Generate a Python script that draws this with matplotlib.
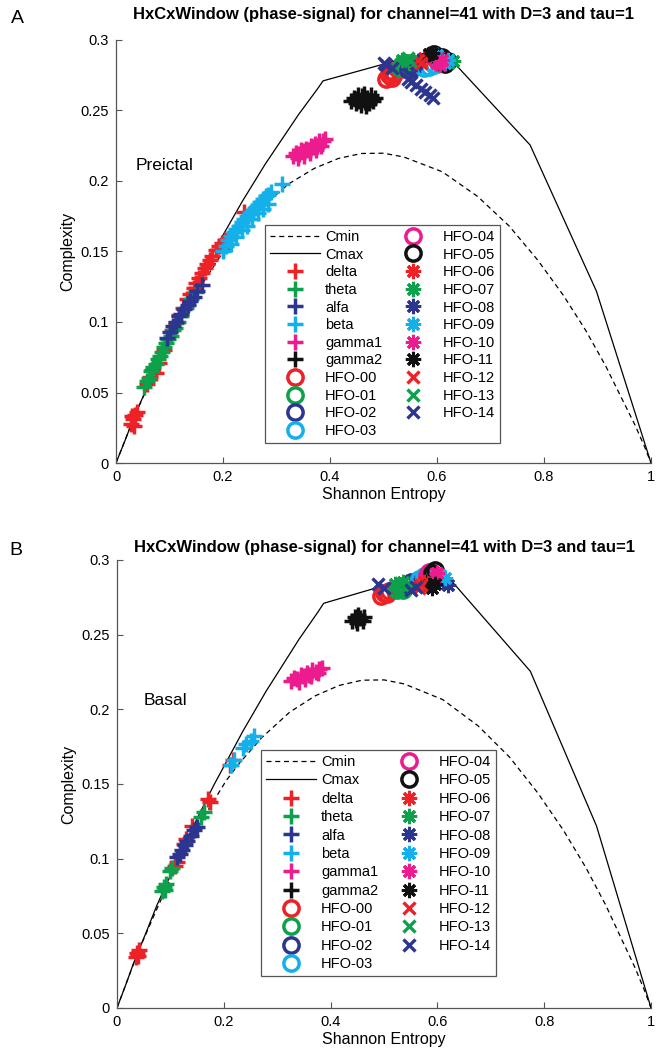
import matplotlib.pyplot as plt
from matplotlib.lines import Line2D

plt.rcParams['font.family'] = ['Liberation Sans', 'DejaVu Sans']

# ---- bounds of the complexity-entropy plane ----
cmin_h = [0.0, 0.022, 0.040, 0.073, 0.102, 0.130, 0.156, 0.204, 0.227, 0.271, 0.323, 0.371, 0.416,
          0.459, 0.500, 0.538, 0.610, 0.676, 0.735, 0.788, 0.836, 0.878, 0.915, 0.945, 0.970, 0.988, 1.0]
cmin_c = [0.0, 0.021, 0.038, 0.065, 0.088, 0.107, 0.124, 0.152, 0.163, 0.181, 0.198, 0.209, 0.216,
          0.2195, 0.2197, 0.217, 0.2065, 0.189, 0.168, 0.144, 0.119, 0.094, 0.069, 0.046, 0.027, 0.0115, 0.0]
cmax_h = [0.0, 0.018, 0.031, 0.055, 0.075, 0.111, 0.142, 0.181, 0.236, 0.279, 0.341, 0.376, 0.387,
          0.530, 0.589, 0.613, 0.774, 0.898, 1.0]
cmax_c = [0.0, 0.017, 0.030, 0.051, 0.069, 0.0975, 0.121, 0.149, 0.1855, 0.212, 0.247, 0.265, 0.271,
          0.286, 0.290, 0.2915, 0.2255, 0.1218, 0.0]

labels = ['delta', 'theta', 'alfa', 'beta', 'gamma1', 'gamma2'] + ['HFO-%02d' % i for i in range(15)]

# ---- panel A: preictal windows (H, C) ----
delta_a = [(0.028, 0.028), (0.032, 0.031), (0.036, 0.034), (0.040, 0.036), (0.034, 0.026), (0.030, 0.033),
           (0.058, 0.056), (0.064, 0.061), (0.068, 0.066), (0.074, 0.064), (0.080, 0.071), (0.090, 0.080),
           (0.104, 0.094), (0.112, 0.099), (0.118, 0.105), (0.126, 0.110), (0.132, 0.116), (0.138, 0.120),
           (0.145, 0.124), (0.150, 0.128), (0.156, 0.131), (0.160, 0.135), (0.166, 0.138), (0.170, 0.141),
           (0.176, 0.144), (0.180, 0.147), (0.186, 0.151), (0.192, 0.154), (0.198, 0.156), (0.204, 0.158),
           (0.200, 0.152), (0.240, 0.178)]
theta_a = [(0.052, 0.054), (0.057, 0.058), (0.062, 0.060), (0.066, 0.065), (0.070, 0.068), (0.074, 0.070),
           (0.078, 0.074), (0.082, 0.076), (0.086, 0.079), (0.090, 0.082), (0.094, 0.085), (0.098, 0.088),
           (0.102, 0.090), (0.106, 0.094), (0.110, 0.096), (0.116, 0.100), (0.122, 0.104), (0.130, 0.110),
           (0.140, 0.116), (0.150, 0.121)]
alfa_a = [(0.095, 0.089), (0.100, 0.093), (0.106, 0.097), (0.112, 0.100), (0.118, 0.104), (0.122, 0.106),
          (0.128, 0.109), (0.134, 0.112), (0.138, 0.115), (0.145, 0.118), (0.152, 0.122), (0.160, 0.126)]
beta_a = [(0.200, 0.150), (0.205, 0.154), (0.210, 0.158), (0.215, 0.161), (0.220, 0.164), (0.225, 0.166),
          (0.230, 0.168), (0.235, 0.171), (0.240, 0.173), (0.245, 0.175), (0.250, 0.177), (0.255, 0.179),
          (0.260, 0.181), (0.265, 0.183), (0.270, 0.185), (0.275, 0.187), (0.280, 0.189), (0.285, 0.190),
          (0.290, 0.192), (0.215, 0.155), (0.225, 0.160), (0.235, 0.165), (0.245, 0.168), (0.255, 0.173),
          (0.265, 0.177), (0.275, 0.180), (0.285, 0.184), (0.310, 0.198)]
gamma1_a = [(0.330, 0.218), (0.336, 0.220), (0.342, 0.219), (0.346, 0.222), (0.350, 0.221), (0.355, 0.223),
            (0.360, 0.222), (0.364, 0.225), (0.368, 0.224), (0.372, 0.226), (0.376, 0.225), (0.380, 0.228),
            (0.386, 0.228), (0.390, 0.230), (0.340, 0.216), (0.352, 0.218), (0.362, 0.220), (0.374, 0.222),
            (0.384, 0.225)]
gamma2_a = [(0.440, 0.257), (0.445, 0.259), (0.448, 0.255), (0.452, 0.261), (0.455, 0.257), (0.458, 0.254),
            (0.460, 0.260), (0.463, 0.262), (0.466, 0.256), (0.470, 0.259), (0.473, 0.255), (0.476, 0.261),
            (0.480, 0.257), (0.484, 0.259), (0.450, 0.258), (0.468, 0.253), (0.462, 0.258)]
hfo00_a = [(0.505, 0.272), (0.510, 0.275), (0.515, 0.273), (0.520, 0.276), (0.512, 0.278)]
hfo01_a = [(0.530, 0.280), (0.535, 0.283), (0.540, 0.281), (0.545, 0.284)]
hfo02_a = [(0.545, 0.279), (0.550, 0.282), (0.555, 0.280)]
hfo03_a = [(0.575, 0.280), (0.585, 0.281), (0.595, 0.282)]
hfo04_a = [(0.600, 0.285), (0.610, 0.284), (0.605, 0.287)]
hfo05_a = [(0.615, 0.283), (0.620, 0.285), (0.610, 0.288), (0.595, 0.290)]
hfo06_a = [(0.570, 0.285), (0.575, 0.287)]
hfo07_a = [(0.535, 0.286), (0.630, 0.285)]
hfo08_a = [(0.560, 0.283), (0.565, 0.285)]
hfo09_a = [(0.615, 0.284), (0.620, 0.286), (0.600, 0.289)]
hfo10_a = [(0.605, 0.282), (0.610, 0.286), (0.595, 0.288)]
hfo11_a = [(0.585, 0.290), (0.590, 0.291)]
hfo12_a = [(0.565, 0.286), (0.570, 0.284)]
hfo13_a = [(0.545, 0.287), (0.550, 0.285)]
hfo14_a = [(0.500, 0.284), (0.505, 0.282), (0.515, 0.280), (0.545, 0.272), (0.552, 0.270), (0.560, 0.268),
           (0.570, 0.265), (0.578, 0.263), (0.586, 0.261), (0.592, 0.259)]

# ---- panel B: basal windows (H, C) ----
delta_b = [(0.035, 0.034), (0.038, 0.037), (0.042, 0.039), (0.040, 0.035), (0.108, 0.095), (0.112, 0.098),
           (0.125, 0.110), (0.130, 0.113), (0.140, 0.122), (0.170, 0.140), (0.174, 0.138), (0.212, 0.163),
           (0.218, 0.166)]
theta_b = [(0.085, 0.078), (0.088, 0.081), (0.090, 0.079), (0.092, 0.083), (0.100, 0.092), (0.103, 0.094),
           (0.158, 0.128), (0.162, 0.131)]
alfa_b = [(0.112, 0.101), (0.118, 0.103), (0.122, 0.106), (0.128, 0.109), (0.132, 0.112), (0.138, 0.115),
          (0.145, 0.119), (0.150, 0.121)]
beta_b = [(0.214, 0.163), (0.220, 0.166), (0.236, 0.174), (0.242, 0.177), (0.250, 0.179), (0.256, 0.182)]
gamma1_b = [(0.325, 0.219), (0.332, 0.221), (0.338, 0.220), (0.345, 0.223), (0.350, 0.222), (0.355, 0.224),
            (0.360, 0.223), (0.366, 0.226), (0.372, 0.225), (0.378, 0.227), (0.384, 0.228), (0.340, 0.218),
            (0.352, 0.220), (0.364, 0.222), (0.376, 0.224)]
gamma2_b = [(0.440, 0.259), (0.445, 0.262), (0.450, 0.258), (0.455, 0.261), (0.460, 0.259), (0.448, 0.260),
            (0.452, 0.263), (0.462, 0.262)]
hfo00_b = [(0.495, 0.276), (0.500, 0.278), (0.505, 0.277), (0.510, 0.279)]
hfo01_b = [(0.525, 0.280), (0.530, 0.282), (0.535, 0.280), (0.540, 0.283)]
hfo02_b = [(0.545, 0.283), (0.550, 0.285)]
hfo03_b = [(0.565, 0.287), (0.575, 0.289)]
hfo04_b = [(0.580, 0.290), (0.585, 0.292)]
hfo05_b = [(0.590, 0.291), (0.595, 0.293)]
hfo06_b = [(0.575, 0.285)]
hfo07_b = [(0.520, 0.284), (0.535, 0.285)]
hfo08_b = [(0.610, 0.285), (0.620, 0.283)]
hfo09_b = [(0.600, 0.287), (0.605, 0.290), (0.615, 0.288)]
hfo10_b = [(0.595, 0.288), (0.600, 0.291)]
hfo11_b = [(0.585, 0.283), (0.590, 0.281), (0.595, 0.284)]
hfo12_b = [(0.565, 0.281), (0.570, 0.283)]
hfo13_b = [(0.530, 0.279), (0.540, 0.281)]
hfo14_b = [(0.488, 0.284), (0.500, 0.281), (0.550, 0.280), (0.560, 0.282)]

series_a = [delta_a, theta_a, alfa_a, beta_a, gamma1_a, gamma2_a,
            hfo00_a, hfo01_a, hfo02_a, hfo03_a, hfo04_a, hfo05_a, hfo06_a, hfo07_a,
            hfo08_a, hfo09_a, hfo10_a, hfo11_a, hfo12_a, hfo13_a, hfo14_a]
series_b = [delta_b, theta_b, alfa_b, beta_b, gamma1_b, gamma2_b,
            hfo00_b, hfo01_b, hfo02_b, hfo03_b, hfo04_b, hfo05_b, hfo06_b, hfo07_b,
            hfo08_b, hfo09_b, hfo10_b, hfo11_b, hfo12_b, hfo13_b, hfo14_b]

# styles
six = ['#ec2227', '#0ea14b', '#2c3590', '#13b0ea', '#ec1c8e', '#111111']
colors = six + six + six + six[:3]
asterisk = (8, 2, 0)
markers = ['+'] * 6 + ['o'] * 6 + [asterisk] * 6 + ['x'] * 3
title = 'HxCxWindow (phase-signal) for channel=41 with D=3 and tau=1'
axis_gray = '#555555'


def draw_panel(ax, series, note, note_xy, leg_anchor, title_pad, spacing):
    handles = []
    h1, = ax.plot(cmin_h, cmin_c, 'k--', lw=0.9, dashes=(4, 3), label='Cmin')
    h2, = ax.plot(cmax_h, cmax_c, 'k-', lw=0.9, label='Cmax')
    handles += [h1, h2]
    for pts, lab, col, mk in zip(series, labels, colors, markers):
        xs = [p[0] for p in pts]
        ys = [p[1] for p in pts]
        if mk == 'o':
            h, = ax.plot(xs, ys, linestyle='none', marker='o', ms=11, mew=2.5,
                         mfc='none', mec=col, label=lab)
        elif mk == '+':
            h, = ax.plot(xs, ys, linestyle='none', marker='+', ms=12, mew=2.5,
                         color=col, label=lab)
        elif mk == 'x':
            h, = ax.plot(xs, ys, linestyle='none', marker='x', ms=8.5, mew=2.4,
                         color=col, label=lab)
        else:
            h, = ax.plot(xs, ys, linestyle='none', marker=mk, ms=11, mew=2.2,
                         color=col, label=lab)
        handles.append(h)
    # blank entry so the columns split 13 / 11 like the original
    handles.append(Line2D([], [], linestyle='none', label=' '))

    ax.set_xlim(0, 1)
    ax.set_ylim(0, 0.3)
    ax.set_xticks([0, 0.2, 0.4, 0.6, 0.8, 1])
    ax.set_xticklabels(['0', '0.2', '0.4', '0.6', '0.8', '1'])
    ax.set_yticks([0, 0.05, 0.1, 0.15, 0.2, 0.25, 0.3])
    ax.set_yticklabels(['0', '0.05', '0.1', '0.15', '0.2', '0.25', '0.3'])
    ax.tick_params(direction='in', length=4, width=0.8, color=axis_gray, labelsize=10.5, pad=5)
    for s in ['top', 'right']:
        ax.spines[s].set_visible(False)
    for s in ['left', 'bottom']:
        ax.spines[s].set_color(axis_gray)
        ax.spines[s].set_linewidth(0.9)
    ax.set_xlabel('Shannon Entropy', fontsize=11.5, labelpad=2)
    ax.set_ylabel('Complexity', fontsize=11.5, labelpad=4)
    ax.set_title(title, fontsize=12, fontweight='bold', pad=title_pad)
    ax.text(note_xy[0], note_xy[1], note, fontsize=12.5, va='center', ha='left')

    leg = ax.legend(handles=handles, ncol=2, loc='upper left', bbox_to_anchor=leg_anchor,
                    borderaxespad=0, fontsize=10.5, labelspacing=spacing, handlelength=3.4,
                    handletextpad=0.35, columnspacing=0.4, borderpad=0.35,
                    fancybox=False, framealpha=1, edgecolor=axis_gray)
    leg.get_frame().set_linewidth(0.9)


fig = plt.figure(figsize=(6.61, 10.6), dpi=100)
ax_a = fig.add_axes([0.1755, 0.5632, 0.8094, 0.3991])
ax_b = fig.add_axes([0.1770, 0.0491, 0.8079, 0.4226])

draw_panel(ax_a, series_a, 'Preictal', (0.037, 0.211), (0.279, 0.563), 15, 0.25)
draw_panel(ax_b, series_b, 'Basal', (0.049, 0.206), (0.270, 0.576), 6, 0.30)

fig.text(0.027, 0.983, 'A', fontsize=14, ha='center', va='center')
fig.text(0.024, 0.481, 'B', fontsize=14, ha='center', va='center')

fig.savefig('out.png', dpi=100)
